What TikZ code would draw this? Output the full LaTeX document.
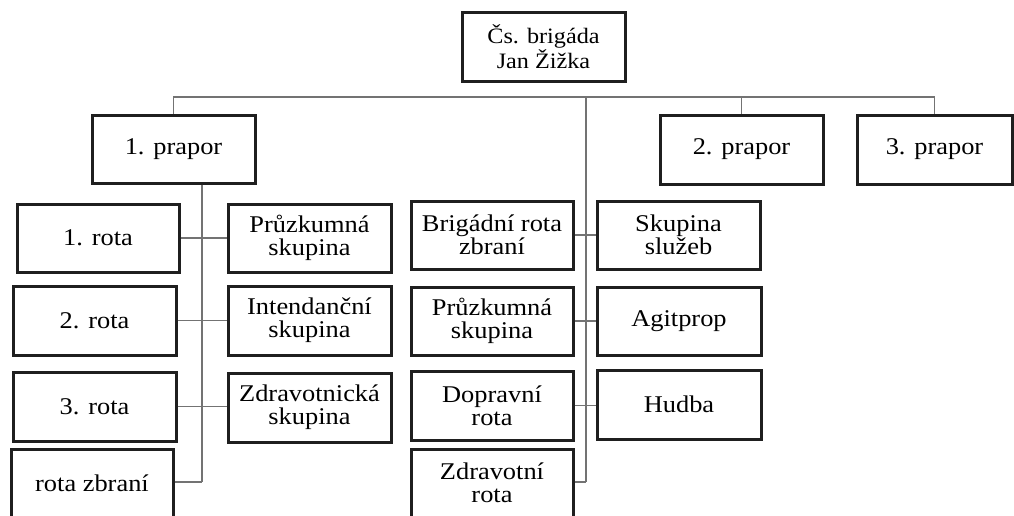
\documentclass[tikz,border=0pt]{standalone}
\usepackage{fontspec}
\setmainfont{Liberation Serif}[FakeStretch=1.1]
\begin{document}
\begin{tikzpicture}[x=1pt,y=-1pt,
  box/.style={draw=black!88,line width=3pt,rectangle,inner sep=0pt,
    minimum width=162pt,minimum height=68pt,align=center,
    font=\fontsize{24}{23}\selectfont},
  conn/.style={draw=black!55,line width=1.1pt}]
\useasboundingbox (0,0) rectangle (1014,515);
\clip (0,0) rectangle (1014,515);
% nodes
\node[box,font=\fontsize{22}{23.5}\selectfont,minimum width=163pt,minimum height=69pt] (top) at (543.5,46.5) {Čs. brigáda\\Jan Žižka};
\node[box,minimum width=163pt] (p1) at (173.5,149) {1. prapor};
\node[box,minimum width=163pt,minimum height=69pt] (p2) at (741.5,149.5) {2. prapor};
\node[box,minimum width=155pt,minimum height=69pt] (p3) at (934.5,149.5) {3. prapor};
% left column
\node[box] (r1) at (98,238) {1. rota};
\node[box,minimum width=163pt,minimum height=69pt] (r2) at (94.5,320.5) {2. rota};
\node[box,minimum width=163pt,minimum height=69pt] (r3) at (94.5,406.5) {3. rota};
\node[box] (rz) at (92,483) {rota zbraní};
% middle-left column
\node[box,minimum width=163pt] (pz1) at (309.5,238) {Průzkumná\\skupina};
\node[box,minimum width=163pt,minimum height=69pt] (int) at (309.5,320.5) {Intendanční\\skupina};
\node[box,minimum width=163pt,minimum height=69pt] (zdr) at (309.5,407.5) {Zdravotnická\\skupina};
% middle column
\node[box] (br) at (492,235) {Brigádní rota\\zbraní};
\node[box] (pz2) at (492,321) {Průzkumná\\skupina};
\node[box,minimum height=69pt] (dop) at (492,405.5) {Dopravní\\rota};
\node[box] (zr) at (492,483) {Zdravotní\\rota};
% right-middle column
\node[box,minimum width=163pt] (sk) at (678.5,235) {Skupina\\služeb};
\node[box,minimum width=164pt] (ag) at (679,321) {Agitprop};
\node[box,minimum width=164pt,minimum height=69pt] (hu) at (679,404.5) {Hudba};
% coordinates
\coordinate (bus) at (0,97);
\coordinate (mtop) at (586,97);
\coordinate (mbot) at (586,482);
\coordinate (lbot) at (202,482);
% connectors
\draw[conn] (p1.north) -- (p1.north |- bus) -- (p3.north |- bus) -- (p3.north);
\draw[conn] (p2.north |- bus) -- (p2.north);
\draw[conn] (mtop) -- (mbot);
\draw[conn] (lbot |- p1.south) -- (lbot);
\draw[conn] (r1.east) -- (r1.east -| pz1.west);
\draw[conn] (r2.east) -- (r2.east -| int.west);
\draw[conn] (r3.east) -- (r3.east -| zdr.west);
\draw[conn] (rz.east |- lbot) -- (lbot);
\draw[conn] (br.east) -- (br.east -| sk.west);
\draw[conn] (pz2.east) -- (pz2.east -| ag.west);
\draw[conn] (dop.east) -- (dop.east -| hu.west);
\draw[conn] (zr.east |- mbot) -- (mbot);
\end{tikzpicture}
\end{document}
